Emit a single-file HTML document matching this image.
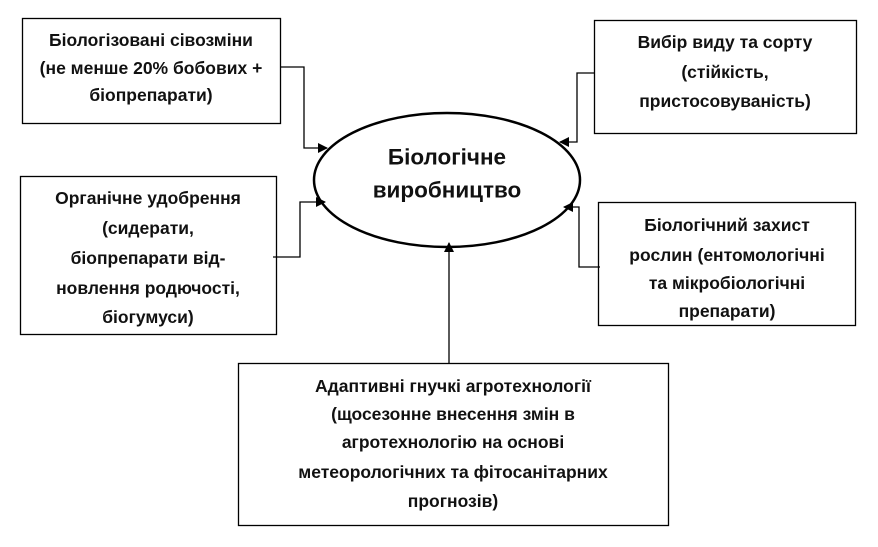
<!DOCTYPE html>
<html><head><meta charset="utf-8"><style>
html,body{margin:0;padding:0;background:#fff}
svg{display:block}
text{font-family:"Liberation Sans",sans-serif;font-weight:bold;font-size:17.5px;fill:#111;text-anchor:middle;dominant-baseline:central}
</style></head><body>
<svg width="878" height="547" viewBox="0 0 878 547" xmlns="http://www.w3.org/2000/svg">
<defs><marker id="a" markerWidth="10" markerHeight="10" refX="9" refY="5" orient="auto" markerUnits="userSpaceOnUse"><path d="M0,0 L10,5 L0,10 z" fill="#000"/></marker></defs>
<g fill="none" stroke="#000" stroke-width="1.3">
<rect x="22.5" y="18.5" width="258" height="105"/>
<rect x="20.5" y="176.5" width="256" height="158"/>
<rect x="594.5" y="20.5" width="262" height="113"/>
<rect x="598.5" y="202.5" width="257" height="123"/>
<rect x="238.5" y="363.5" width="430" height="162"/>
<polyline points="280,67 304,67 304,148 327,148" marker-end="url(#a)"/>
<polyline points="273,257 300,257 300,202 325,202" marker-end="url(#a)"/>
<polyline points="594,73 577,73 577,142 560,142" marker-end="url(#a)"/>
<polyline points="600,267 579,267 579,207 564,207" marker-end="url(#a)"/>
<polyline points="449,363 449,243" marker-end="url(#a)"/>
</g>
<ellipse cx="447" cy="180" rx="133" ry="67" fill="none" stroke="#000" stroke-width="2.5"/>
<text x="447" y="157" style="font-size:22.5px">Біологічне</text>
<text x="447" y="190" style="font-size:22.5px">виробництво</text>
<text x="151" y="40">Біологізовані сівозміни</text>
<text x="151" y="68">(не менше 20% бобових +</text>
<text x="151" y="95">біопрепарати)</text>
<text x="148" y="198">Органічне удобрення</text>
<text x="148" y="228">(сидерати,</text>
<text x="148" y="258">біопрепарати від-</text>
<text x="148" y="288">новлення родючості,</text>
<text x="148" y="317">біогумуси)</text>
<text x="725" y="42">Вибір виду та сорту</text>
<text x="725" y="72">(стійкість,</text>
<text x="725" y="101">пристосовуваність)</text>
<text x="727" y="225">Біологічний захист</text>
<text x="727" y="255">рослин (ентомологічні</text>
<text x="727" y="283">та мікробіологічні</text>
<text x="727" y="311">препарати)</text>
<text x="453" y="386">Адаптивні гнучкі агротехнології</text>
<text x="453" y="414">(щосезонне внесення змін в</text>
<text x="453" y="442">агротехнологію на основі</text>
<text x="453" y="472">метеорологічних та фітосанітарних</text>
<text x="453" y="501">прогнозів)</text>
</svg>
</body></html>
